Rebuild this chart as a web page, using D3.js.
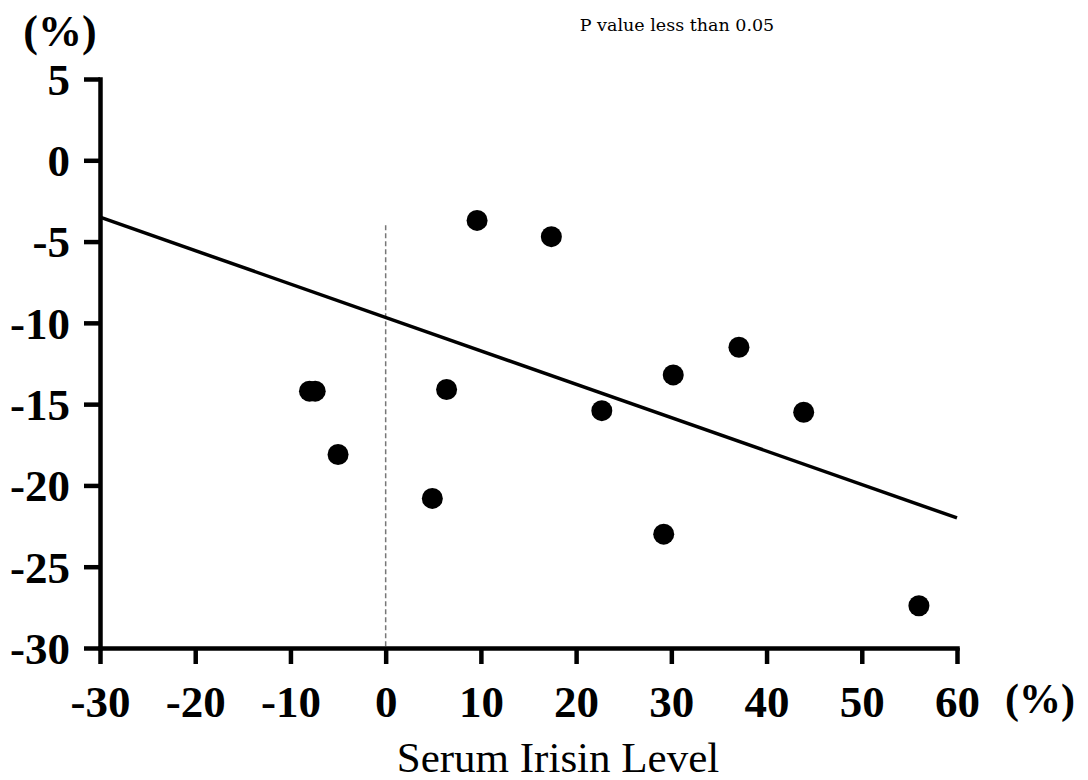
<!DOCTYPE html>
<html>
<head>
<meta charset="utf-8">
<script src="https://cdn.jsdelivr.net/npm/d3@7"></script>
<style>
  body { margin: 0; background: #fff; }
  svg { display: block; }
  .tick text { font-family: "Times New Roman", "Liberation Serif", serif; font-weight: bold; }
</style>
</head>
<body>
<div id="chart"></div>
<script>
// irisin change (%) vs outcome change (%)
const irisin = [-8, -7.4, -5, 4.9, 6.4, 9.6, 17.4, 22.7, 29.2, 30.2, 37.1, 43.9, 56];
const change = [-14.2, -14.2, -18.1, -20.8, -14.1, -3.7, -4.7, -15.4, -23.0, -13.2, -11.5, -15.5, -27.4];

// fitted line
const fitX = [-30, 60];
const fitY = [-3.5, -22.0];

const xTicks = [-30, -20, -10, 0, 10, 20, 30, 40, 50, 60];
const yTicks = [5, 0, -5, -10, -15, -20, -25, -30];
const refX = [0, 0];
const refY = [-4, -30];

const width = 1088, height = 780;
const margin = { left: 100, right: 131, top: 79, bottom: 132 };
const serif = '"Times New Roman", "Liberation Serif", serif';

const x = d3.scaleLinear()
  .domain([-30, 60])
  .range([margin.left, width - margin.right]);

const y = d3.scaleLinear()
  .domain([-30, 5])
  .range([height - margin.bottom, margin.top]);

const svg = d3.select('#chart').append('svg')
  .attr('width', width)
  .attr('height', height);

// dashed zero line
svg.append('path')
  .datum(refX.map((d, i) => [d, refY[i]]))
  .attr('fill', 'none')
  .attr('stroke', '#777')
  .attr('stroke-width', 1.5)
  .attr('stroke-dasharray', '5,3')
  .attr('d', d3.line().x(d => x(d[0])).y(d => y(d[1])));

// regression line
svg.append('path')
  .datum(fitX.map((d, i) => [d, fitY[i]]))
  .attr('fill', 'none')
  .attr('stroke', '#000')
  .attr('stroke-width', 3.5)
  .attr('d', d3.line().x(d => x(d[0])).y(d => y(d[1])));

// points
svg.selectAll('circle.pt')
  .data(irisin.map((d, i) => ({ x: d, y: change[i] })))
  .enter().append('circle')
  .attr('class', 'pt')
  .attr('cx', d => x(d.x))
  .attr('cy', d => y(d.y))
  .attr('r', 10.5)
  .attr('fill', '#000');

const xAxis = svg.append('g')
  .attr('transform', `translate(0,${y(-30)})`)
  .call(d3.axisBottom(x).tickValues(xTicks).tickFormat(d => String(d))
    .tickSize(16).tickSizeOuter(0).tickPadding(21));

const yAxis = svg.append('g')
  .attr('transform', `translate(${x(-30)},0)`)
  .call(d3.axisLeft(y).tickValues(yTicks).tickFormat(d => String(d))
    .tickSize(16).tickSizeOuter(0).tickPadding(14));

[xAxis, yAxis].forEach(g => {
  g.select('.domain').attr('stroke', '#000').attr('stroke-width', 4.5).attr('stroke-linecap', 'square');
  g.selectAll('.tick line').attr('stroke', '#000').attr('stroke-width', 4.5);
  g.selectAll('.tick text').attr('fill', '#000').attr('font-size', 45);
});
yAxis.selectAll('.tick text').attr('dy', '0.34em');

// unit labels
svg.append('text')
  .attr('x', 60).attr('y', 46)
  .attr('text-anchor', 'middle')
  .style('font-family', serif)
  .style('font-weight', 'bold')
  .style('font-size', '44px')
  .text('(%)');

svg.append('text')
  .attr('x', 1040).attr('y', 713)
  .attr('text-anchor', 'middle')
  .style('font-family', serif)
  .style('font-weight', 'bold')
  .style('font-size', '42px')
  .text('(%)');

svg.append('text')
  .attr('x', 558).attr('y', 772)
  .attr('text-anchor', 'middle')
  .style('font-family', serif)
  .style('font-size', '43px')
  .text('Serum Irisin Level');

svg.append('text')
  .attr('x', 677).attr('y', 31)
  .attr('text-anchor', 'middle')
  .style('font-family', '"DejaVu Serif", serif')
  .style('font-size', '17.5px')
  .text('P value less than 0.05');
</script>
</body>
</html>
